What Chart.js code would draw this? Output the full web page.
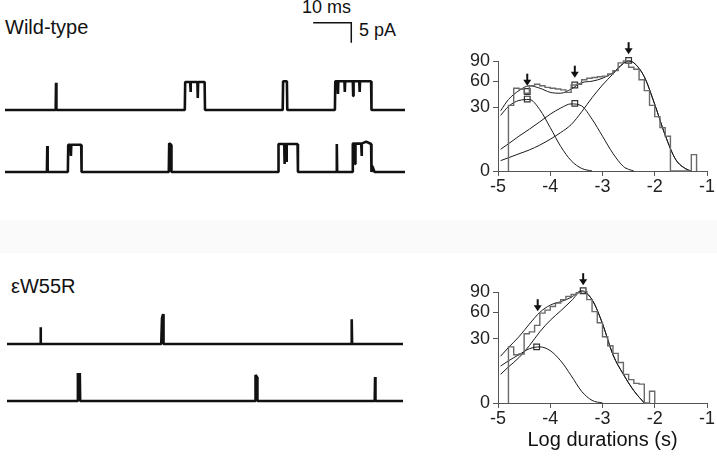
<!DOCTYPE html>
<html>
<head>
<meta charset="utf-8">
<script src="https://cdn.jsdelivr.net/npm/chart.js@4.4.1/dist/chart.umd.min.js"></script>
<style>
  body { margin: 0; background: #fff; }
  #page { position: relative; width: 717px; height: 464px; overflow: hidden; font-family: "Liberation Sans", Arial, sans-serif; color: #111; }
  .box { position: absolute; }
  .lbl { position: absolute; line-height: 1; white-space: nowrap; }
  #band { position: absolute; left: 0; top: 220px; width: 717px; height: 33px; background: #fafafa; }
</style>
</head>
<body>
<div id="page">
  <div id="band"></div>
  <div class="lbl" style="left:5px;top:17px;font-size:20px">Wild-type</div>
  <div class="lbl" style="left:11px;top:276px;font-size:20px">εW55R</div>
  <div class="lbl" style="left:302px;top:-2px;font-size:18px">10 ms</div>
  <div class="lbl" style="left:359px;top:21px;font-size:18px">5 pA</div>

  <div class="box" style="left:5px;top:0;width:400px;height:120px"><canvas id="trace1"></canvas></div>
  <div class="box" style="left:5px;top:132px;width:400px;height:50px"><canvas id="trace2"></canvas></div>
  <div class="box" style="left:7px;top:304px;width:396px;height:50px"><canvas id="trace3"></canvas></div>
  <div class="box" style="left:7px;top:361px;width:396px;height:50px"><canvas id="trace4"></canvas></div>

  <div class="box" style="left:440px;top:0;width:277px;height:200px"><canvas id="histWT"></canvas></div>
  <div class="box" style="left:440px;top:230px;width:277px;height:234px"><canvas id="histMut"></canvas></div>
</div>
<script>
// current traces: [time ms, current pA] corner points
const wtTrace1 = [[0,0],[13.3,0],[13.4,6.8],[13.5,0],
  [47.2,0],[47.3,7],[48.6,7],[48.7,4.5],[48.8,7],[50.5,7],[50.6,3],[50.7,7],[52.4,7],[52.5,0],
  [72.9,0],[73.0,7.2],[74.0,7.2],[74.1,0],
  [86.6,0],[86.7,7.2],[87.3,7.2],[87.4,4],[87.5,7.2],[89.1,7.2],[89.2,4.5],[89.3,7.2],[91.3,7.2],[91.4,3.5],[91.5,7.2],[93.0,7.2],[93.1,4.5],[93.2,7.2],[96.1,7.2],[96.2,0],[105,0]];
const wtTrace2 = [[0,0],[11.0,0],[11.1,6.5],[11.2,0],
  [16.5,0],[16.6,6.8],[17.2,6.8],[17.3,4],[17.4,6.8],[20.0,6.8],[20.1,0],
  [43.0,0],[43.1,7.2],[43.6,6.8],[43.7,0],
  [71.7,0],[71.8,7],[73.3,7],[73.4,2],[73.5,7],[73.8,7],[73.9,2.5],[74.0,7],[76.8,7],[76.9,0],
  [87.0,0],[87.1,7],[87.2,0],
  [91.2,0],[91.3,7.1],[91.8,7.1],[91.9,2],[92.0,7.1],[93.5,7.1],[93.6,4],[93.7,7.1],[94.8,7.6],[96.1,7],[96.2,0],[96.4,1.5],[96.8,0.5],[97,0],[105,0]];
const mutTrace1 = [[0,0],[8.8,0],[8.9,4.2],[9.0,0],[40.9,0],[41.1,6.5],[41.4,7.5],[41.5,0],[91.3,0],[91.4,6.2],[91.5,0],[105,0]];
const mutTrace2 = [[0,0],[18.7,0],[18.8,7],[18.9,0.5],[19.2,0.5],[19.3,7],[19.4,0],[65.8,0],[65.9,6.5],[66.3,6],[66.4,0],[97.5,0],[97.6,6],[97.7,0],[105,0]];
// calibration bar: 10 ms, 5 pA
const scaleBar = [[80.9,21.8],[90.9,21.8],[90.9,16.8]];

// dwell-time histograms (counts per 0.1 log unit bin, sqrt ordinate)
const binWidth = 0.1;
const wtBinStart = -4.8;
const wtCounts = [32,51,50,45,54,56,54,52,51,50,49,46,55,56,62,64,65,66,67,70,75,87,90,80,77,62,48,32,22,14,9,0,0,0,0,2];
const mutBinStart = -4.8;
const mutCounts = [23,17,17.5,35,37,44,59,63,68,73,78,83,86,89,91,78,61,47,32,24,18,12,6,4,2.8,2.6,0,1];

// fitted components, read at these log durations
const wtFitX = [-4.95,-4.8,-4.6,-4.4,-4.2,-4.0,-3.8,-3.6,-3.4,-3.2,-3.0,-2.8,-2.6,-2.5,-2.4,-2.2,-2.0,-1.8,-1.6,-1.4,-1.3];
const wtComp1 = [23,31,37,38,28,14,4.5,0.8,0.05,0,null,null,null,null,null,null,null,null,null,null,null];
const wtComp2 = [3.5,5.5,9,13,18,24,29.5,33.5,31.5,20,9,2.3,0.15,0.02,0,null,null,null,null,null,null];
const wtComp3 = [0.8,1.3,2.2,3.3,5,7.5,11,16,26,40,55,70,86,90,87,66,33,9.5,1,0.03,0];
const wtTotal = [27,38,48,54,51,46,45,50,58,60,64,72,86,90,87,66,33,9.5,1,0.03,0];

const mutFitX = [-4.95,-4.8,-4.6,-4.4,-4.2,-4.0,-3.8,-3.6,-3.4,-3.2,-3.0,-2.8,-2.6,-2.4,-2.2];
const mutCompA = [10,13,17,21.5,23,20,13,5.5,1,0.05,0,null,null,null,null];
const mutCompB = [6,9.5,15,24,37,50,62,76,91,78,46,17,6,1.1,0];
const mutTotal = [16,22.5,32,45.5,60,70,75,81.5,92,78,46,17,6,1.1,0];

// open squares and arrows
const wtMarkX = [-4.44,-4.44,-3.53,-3.53,-2.5];
const wtMarkY = [47,38.5,55,34,91];
const wtArrowX = [-4.44,-3.53,-2.5];
const wtArrowY = [48,58,93];
const mutMarkX = [-4.26,-3.37];
const mutMarkY = [23,92];
const mutArrowX = [-4.24,-3.37];
const mutArrowY = [55,93];

const yTicks = [0,30,60,90];
const font = "'Liberation Sans', Arial, sans-serif";

function traceChart(id, pts, yMax, extra) {
    const datasets = [{
        data: pts.map(p => ({x: p[0], y: p[1]})),
        borderColor: '#111',
        borderWidth: 2.6,
        borderJoinStyle: 'bevel',
        pointRadius: 0,
        tension: 0
    }];
    if (extra) {
        datasets.push({
            data: extra.map(p => ({x: p[0], y: p[1]})),
            borderColor: '#111',
            borderWidth: 1.5,
            borderJoinStyle: 'miter',
            pointRadius: 0
        });
    }
    new Chart(document.getElementById(id), {
        type: 'line',
        data: { datasets: datasets },
        options: {
            responsive: true,
            maintainAspectRatio: false,
            animation: false,
            devicePixelRatio: 1,
            layout: { padding: 0 },
            plugins: { legend: { display: false }, tooltip: { enabled: false } },
            scales: {
                x: { type: 'linear', min: 0, max: 105, display: false },
                y: { min: -2.5, max: yMax, display: false }
            }
        }
    });
}

traceChart('trace1', wtTrace1, 27.5, scaleBar);
traceChart('trace2', wtTrace2, 10);
traceChart('trace3', mutTrace1, 10);
traceChart('trace4', mutTrace2, 10);

function histPoints(start, counts) {
    const pts = [{x: start, y: 0}];
    counts.forEach((c, i) => pts.push({x: start + i * binWidth, y: Math.sqrt(c)}));
    pts.push({x: start + counts.length * binWidth, y: 0});
    return pts;
}

function curve(xs, ys) {
    return {
        data: xs.map((x, i) => ({x: x, y: ys[i] == null ? null : Math.sqrt(ys[i])})),
        borderColor: '#1a1a1a',
        borderWidth: 1,
        pointRadius: 0,
        cubicInterpolationMode: 'monotone',
        clip: false
    };
}

function arrows(xs, vs) {
    return {
        id: 'arrows',
        afterDatasetsDraw(chart) {
            const ctx = chart.ctx, sx = chart.scales.x, sy = chart.scales.y;
            ctx.save();
            ctx.strokeStyle = '#111';
            ctx.fillStyle = '#111';
            ctx.lineWidth = 2;
            xs.forEach((x, i) => {
                const px = sx.getPixelForValue(x);
                const tip = sy.getPixelForValue(Math.sqrt(vs[i])) - 5;
                ctx.beginPath();
                ctx.moveTo(px, tip - 12);
                ctx.lineTo(px, tip - 4);
                ctx.stroke();
                ctx.beginPath();
                ctx.moveTo(px - 4, tip - 6);
                ctx.lineTo(px + 4, tip - 6);
                ctx.lineTo(px, tip);
                ctx.closePath();
                ctx.fill();
            });
            ctx.restore();
        }
    };
}

function histChart(id, binStart, counts, fitX, fits, markX, markY, arrX, arrY, padTop, xHeight, title) {
    const datasets = [{
        data: histPoints(binStart, counts),
        borderColor: '#6a6a6a',
        borderWidth: 1.4,
        pointRadius: 0,
        stepped: true,
        clip: false
    }];
    fits.forEach(f => datasets.push(curve(fitX, f)));
    datasets.push({
        data: markX.map((x, i) => ({x: x, y: Math.sqrt(markY[i])})),
        showLine: false,
        pointStyle: 'rect',
        pointRadius: 4,
        pointBorderWidth: 1.2,
        pointBorderColor: '#333',
        pointBackgroundColor: 'rgba(0,0,0,0)',
        clip: false
    });
    const axisColor = '#555';
    new Chart(document.getElementById(id), {
        type: 'line',
        data: { datasets: datasets },
        plugins: [arrows(arrX, arrY)],
        options: {
            responsive: true,
            maintainAspectRatio: false,
            animation: false,
            devicePixelRatio: 1,
            layout: { padding: { left: 8, right: 10, top: padTop, bottom: 4 } },
            plugins: { legend: { display: false }, tooltip: { enabled: false } },
            scales: {
                x: {
                    type: 'linear', min: -5, max: -1,
                    ticks: { stepSize: 1, padding: 0, color: '#222', font: { family: font, size: 18 } },
                    grid: { drawOnChartArea: false, tickLength: 5, color: axisColor },
                    border: { color: axisColor, width: 1 },
                    title: {
                        display: !!title, text: title, color: '#111',
                        font: { family: font, size: 20 }, padding: { top: 4, bottom: 8 }
                    },
                    afterFit: s => { s.height = xHeight; }
                },
                y: {
                    min: 0, max: Math.sqrt(90),
                    afterBuildTicks: s => { s.ticks = yTicks.map(v => ({value: Math.sqrt(v)})); },
                    ticks: { padding: 3, color: '#222', font: { family: font, size: 18 }, callback: v => Math.round(v * v) },
                    grid: { drawOnChartArea: false, tickLength: 5, color: axisColor },
                    border: { color: axisColor, width: 1 },
                    afterFit: s => { s.width = 50; }
                }
            }
        }
    });
}

histChart('histWT', wtBinStart, wtCounts, wtFitX, [wtComp1, wtComp2, wtComp3, wtTotal],
    wtMarkX, wtMarkY, wtArrowX, wtArrowY, 61, 25, '');
histChart('histMut', mutBinStart, mutCounts, mutFitX, [mutCompA, mutCompB, mutTotal],
    mutMarkX, mutMarkY, mutArrowX, mutArrowY, 62, 57, 'Log durations (s)');
</script>
</body>
</html>
